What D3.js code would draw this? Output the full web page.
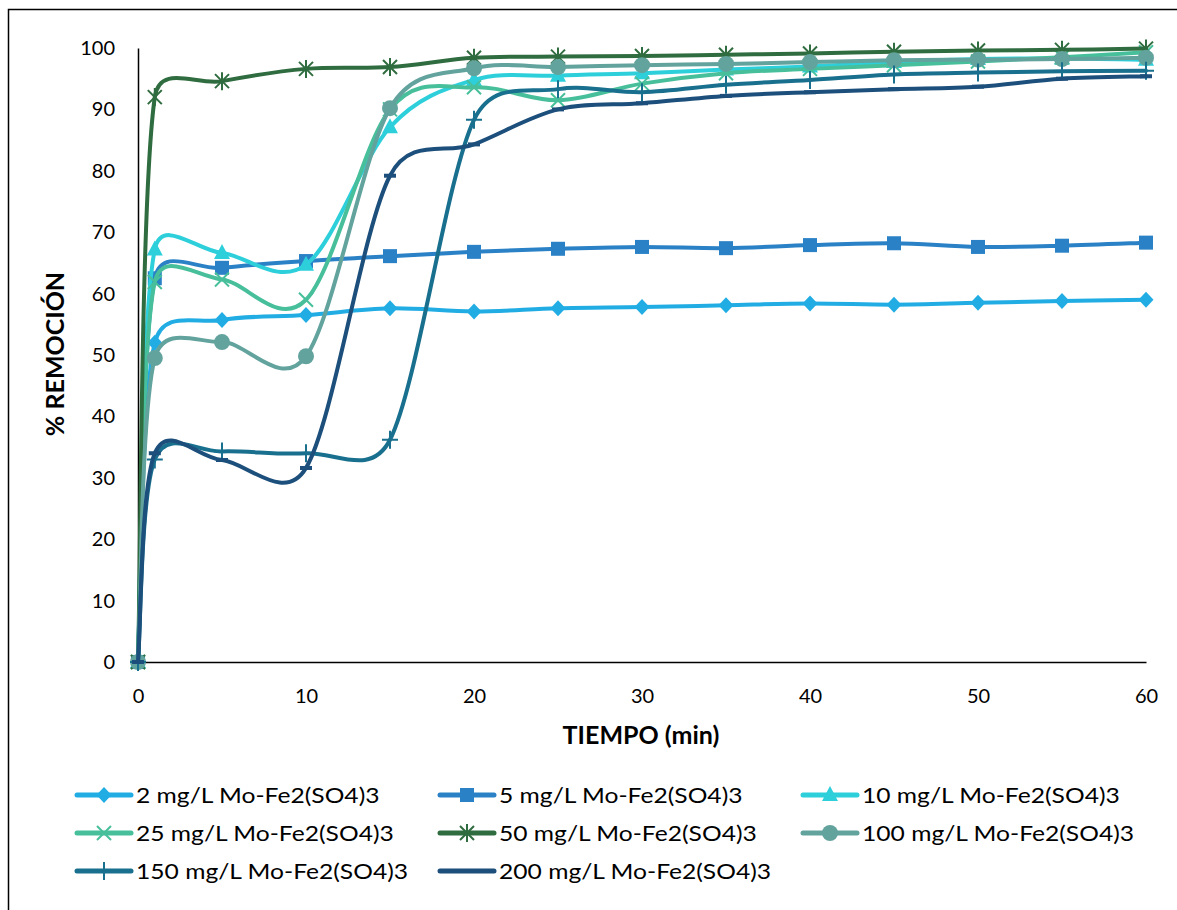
<!DOCTYPE html>
<html>
<head>
<meta charset="utf-8">
<script src="https://cdn.jsdelivr.net/npm/d3@7"></script>
<style>
  html, body { margin: 0; padding: 0; background: #fff; }
  svg { display: block; font-family: Lato, "Open Sans", sans-serif; }
</style>
</head>
<body>
<svg id="chart" width="1177" height="910"></svg>
<script>
// Sampling times (min)
const tiempos = [0, 1, 5, 10, 15, 20, 25, 30, 35, 40, 45, 50, 55, 60];

// % removal per coagulant dose
const serie2   = [0, 52.0, 55.7, 56.5, 57.6, 57.1, 57.6, 57.8, 58.1, 58.4, 58.2, 58.5, 58.8, 59.0];
const serie5   = [0, 62.5, 64.2, 65.3, 66.1, 66.8, 67.3, 67.6, 67.4, 67.9, 68.2, 67.6, 67.8, 68.3];
const serie10  = [0, 67.2, 66.6, 64.7, 87.1, 94.8, 95.5, 95.9, 96.5, 97.0, 97.7, 98.2, 98.3, 98.1];
const serie25  = [0, 61.9, 62.3, 59.0, 90.0, 93.6, 91.5, 94.2, 95.9, 96.6, 97.2, 97.8, 98.5, 99.3];
const serie50  = [0, 92.0, 94.6, 96.6, 96.9, 98.4, 98.6, 98.7, 98.9, 99.1, 99.4, 99.6, 99.7, 99.9];
const serie100 = [0, 49.5, 52.1, 49.8, 90.2, 96.7, 96.9, 97.2, 97.4, 97.7, 98.0, 98.1, 98.2, 98.4];
const serie150 = [0, 33.0, 34.3, 34.0, 36.2, 88.3, 93.3, 92.8, 94.0, 94.8, 95.7, 96.0, 96.2, 96.3];
const serie200 = [0, 34.0, 32.9, 31.6, 79.2, 84.3, 90.0, 91.0, 92.2, 92.8, 93.3, 93.7, 95.0, 95.4];

const etiquetas = [
  "2 mg/L Mo-Fe2(SO4)3", "5 mg/L Mo-Fe2(SO4)3", "10 mg/L Mo-Fe2(SO4)3",
  "25 mg/L Mo-Fe2(SO4)3", "50 mg/L Mo-Fe2(SO4)3", "100 mg/L Mo-Fe2(SO4)3",
  "150 mg/L Mo-Fe2(SO4)3", "200 mg/L Mo-Fe2(SO4)3"
];
const colores = ["#21ade4", "#2a81c6", "#2dcfdb", "#48bf9b", "#2f6c3f", "#63a39e", "#186f8e", "#1c4f7b"];
const marcadores = ["diamond", "square", "triangle", "cross", "star", "circle", "plus", "dash"];

const xTicks = [0, 10, 20, 30, 40, 50, 60];
const yTicks = [0, 10, 20, 30, 40, 50, 60, 70, 80, 90, 100];

const valores = [serie2, serie5, serie10, serie25, serie50, serie100, serie150, serie200];
const series = valores.map((v, i) => ({
  nombre: etiquetas[i], color: colores[i], marcador: marcadores[i],
  puntos: tiempos.map((t, j) => ({ t, v: v[j] }))
}));

const svg = d3.select("#chart");

// Outer frame of the chart
svg.append("rect")
  .attr("x", 8.5).attr("y", 9.5).attr("width", 1200).attr("height", 950)
  .attr("fill", "none").attr("stroke", "#000").attr("stroke-width", 1.5);

const x = d3.scaleLinear().domain([0, 60]).range([138, 1146]);
const y = d3.scaleLinear().domain([0, 100]).range([662, 48]);

// Axes
const gx = svg.append("g").attr("transform", `translate(0,${y(0)})`)
  .call(d3.axisBottom(x).tickValues(xTicks).tickSize(0).tickPadding(27));
const gy = svg.append("g").attr("transform", `translate(${x(0)},0)`)
  .call(d3.axisLeft(y).tickValues(yTicks).tickSize(0).tickPadding(23));
[gx, gy].forEach(g => {
  g.select(".domain").attr("stroke", "#000").attr("stroke-width", 1.5);
  g.selectAll("text").attr("font-size", 20).attr("fill", "#000")
    .attr("font-family", "Lato, sans-serif");
});

// Axis titles
svg.append("text")
  .attr("x", 641).attr("y", 744).attr("text-anchor", "middle")
  .attr("font-size", 25).attr("font-weight", "bold").attr("fill", "#000")
  .text("TIEMPO (min)");
svg.append("text")
  .attr("transform", "translate(64,354) rotate(-90)").attr("text-anchor", "middle")
  .attr("font-size", 25).attr("font-weight", "bold").attr("fill", "#000")
  .text("% REMOCIÓN");

// Marker shapes centred at the origin
function dibujarMarcador(g, tipo, color) {
  switch (tipo) {
    case "diamond":
      g.append("path").attr("d", "M0,-8L7.5,0L0,8L-7.5,0Z").attr("fill", color); break;
    case "square":
      g.append("rect").attr("x", -7).attr("y", -7).attr("width", 14).attr("height", 14).attr("fill", color); break;
    case "triangle":
      g.append("path").attr("d", "M0,-9L8,6L-8,6Z").attr("fill", color); break;
    case "cross":
      g.append("path").attr("d", "M-7,-7L7,7M-7,7L7,-7").attr("stroke", color).attr("stroke-width", 2).attr("fill", "none"); break;
    case "star":
      g.append("path").attr("d", "M-7,-7L7,7M-7,7L7,-7M0,-9L0,9").attr("stroke", color).attr("stroke-width", 2).attr("fill", "none"); break;
    case "circle":
      g.append("circle").attr("r", 8).attr("fill", color); break;
    case "plus":
      g.append("path").attr("d", "M-8,0L8,0M0,-9L0,9").attr("stroke", color).attr("stroke-width", 2).attr("fill", "none"); break;
    case "dash":
      g.append("rect").attr("x", -6).attr("y", -2).attr("width", 12).attr("height", 4).attr("fill", color); break;
  }
}

// Smoothed spline: cubic Bezier segments whose handles follow the neighbouring
// points (1/6 rule) but never reach past half of the segment length.
function trazoSuave(pts) {
  const p = pts.map(d => [x(d.t), y(d.v)]);
  const dist = (a, b) => Math.hypot(b[0] - a[0], b[1] - a[1]);
  let path = d3.path();
  path.moveTo(p[0][0], p[0][1]);
  for (let i = 0; i < p.length - 1; i++) {
    const p0 = p[Math.max(i - 1, 0)], p1 = p[i], p2 = p[i + 1], p3 = p[Math.min(i + 2, p.length - 1)];
    const d12 = dist(p1, p2), d02 = dist(p0, p2), d13 = dist(p1, p3);
    let f1 = 1 / 6, f2 = 1 / 6;
    if (d02 / 6 > d12 / 2 && d02 > 0) f1 = (d12 / 2) / d02;
    if (d13 / 6 > d12 / 2 && d13 > 0) f2 = (d12 / 2) / d13;
    const c1 = [p1[0] + (p2[0] - p0[0]) * f1, p1[1] + (p2[1] - p0[1]) * f1];
    const c2 = [p2[0] - (p3[0] - p1[0]) * f2, p2[1] - (p3[1] - p1[1]) * f2];
    path.bezierCurveTo(c1[0], c1[1], c2[0], c2[1], p2[0], p2[1]);
  }
  return path.toString();
}

// Lines with markers
const plot = svg.append("g");
series.forEach(s => {
  const g = plot.append("g");
  g.append("path").attr("d", trazoSuave(s.puntos))
    .attr("fill", "none").attr("stroke", s.color).attr("stroke-width", 4)
    .attr("stroke-linejoin", "round").attr("stroke-linecap", "round");
  g.selectAll("g.m").data(s.puntos).join("g").attr("class", "m")
    .attr("transform", d => `translate(${x(d.t)},${y(d.v)})`)
    .each(function () { dibujarMarcador(d3.select(this), s.marcador, s.color); });
});

// Legend: three columns, three rows
const colX = [77, 440, 803];
const rowY = [795, 833, 871];
series.forEach((s, i) => {
  const g = svg.append("g")
    .attr("transform", `translate(${colX[i % 3]},${rowY[Math.floor(i / 3)]})`);
  g.append("line").attr("x1", 0).attr("x2", 54).attr("y1", 0).attr("y2", 0)
    .attr("stroke", s.color).attr("stroke-width", 5).attr("stroke-linecap", "round");
  dibujarMarcador(g.append("g").attr("transform", "translate(27,0)"), s.marcador, s.color);
  g.append("text").attr("transform", "translate(59,0) scale(1.12,1)").attr("dy", "0.35em")
    .attr("font-size", 22).attr("fill", "#000").text(s.nombre);
});
</script>
</body>
</html>
